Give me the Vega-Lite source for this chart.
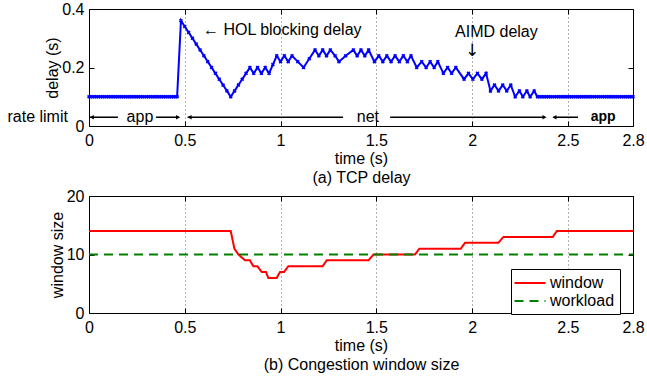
{
  "$schema": "https://vega.github.io/schema/vega-lite/v6.json",
  "background": "white",
  "padding": {"left": 6, "top": 0, "right": 3, "bottom": 2},
  "bounds": "flush",
  "spacing": 70,
  "config": {
    "font": "Liberation Sans",
    "view": {"stroke": "black", "strokeWidth": 1},
    "axis": {"labelFont": "Liberation Sans", "titleFont": "Liberation Sans", "labelFontSize": 16, "titleFontSize": 16, "titleFontWeight": "normal", "labelColor": "black", "titleColor": "black", "domain": false, "tickColor": "black", "tickSize": -5, "tickWidth": 1, "labelFlush": false, "labelOverlap": false, "grid": false},
    "axisX": {"labelPadding": 11, "titlePadding": 2, "titleLineHeight": 19},
    "axisY": {"labelPadding": 10, "titleBaseline": "middle"},
    "text": {"font": "Liberation Sans", "fontSize": 16, "color": "black"}
  },
  "datasets": {
    "delay": [
      {"t":0,"d":0.1},{"t":0.01,"d":0.1},{"t":0.02,"d":0.1},{"t":0.03,"d":0.1},{"t":0.04,"d":0.1},{"t":0.05,"d":0.1},{"t":0.06,"d":0.1},{"t":0.07,"d":0.1},{"t":0.08,"d":0.1},{"t":0.09,"d":0.1},
      {"t":0.1,"d":0.1},{"t":0.11,"d":0.1},{"t":0.12,"d":0.1},{"t":0.13,"d":0.1},{"t":0.14,"d":0.1},{"t":0.15,"d":0.1},{"t":0.16,"d":0.1},{"t":0.17,"d":0.1},{"t":0.18,"d":0.1},{"t":0.19,"d":0.1},
      {"t":0.2,"d":0.1},{"t":0.21,"d":0.1},{"t":0.22,"d":0.1},{"t":0.23,"d":0.1},{"t":0.24,"d":0.1},{"t":0.25,"d":0.1},{"t":0.26,"d":0.1},{"t":0.27,"d":0.1},{"t":0.28,"d":0.1},{"t":0.29,"d":0.1},
      {"t":0.3,"d":0.1},{"t":0.31,"d":0.1},{"t":0.32,"d":0.1},{"t":0.33,"d":0.1},{"t":0.34,"d":0.1},{"t":0.35,"d":0.1},{"t":0.36,"d":0.1},{"t":0.37,"d":0.1},{"t":0.38,"d":0.1},{"t":0.39,"d":0.1},
      {"t":0.4,"d":0.1},{"t":0.41,"d":0.1},{"t":0.42,"d":0.1},{"t":0.43,"d":0.1},{"t":0.44,"d":0.1},{"t":0.45,"d":0.1},{"t":0.46,"d":0.1},
      {"t":0.48,"d":0.36},{"t":0.5,"d":0.34},{"t":0.52,"d":0.32},{"t":0.54,"d":0.3},{"t":0.56,"d":0.28},{"t":0.58,"d":0.26},{"t":0.6,"d":0.24},{"t":0.62,"d":0.22},{"t":0.64,"d":0.2},{"t":0.66,"d":0.18},{"t":0.68,"d":0.16},{"t":0.7,"d":0.14},{"t":0.72,"d":0.12},{"t":0.74,"d":0.1},
      {"t":0.76,"d":0.12},{"t":0.78,"d":0.14},{"t":0.8,"d":0.16},{"t":0.82,"d":0.18},{"t":0.84,"d":0.2},
      {"t":0.86,"d":0.18},{"t":0.88,"d":0.2},{"t":0.9,"d":0.18},{"t":0.92,"d":0.2},{"t":0.94,"d":0.18},{"t":0.96,"d":0.21},{"t":0.98,"d":0.24},
      {"t":1.0,"d":0.22},{"t":1.02,"d":0.24},{"t":1.04,"d":0.22},{"t":1.06,"d":0.24},{"t":1.09,"d":0.22},{"t":1.12,"d":0.2},{"t":1.15,"d":0.23},{"t":1.18,"d":0.26},
      {"t":1.2,"d":0.24},{"t":1.22,"d":0.26},{"t":1.24,"d":0.24},{"t":1.26,"d":0.26},{"t":1.285,"d":0.24},{"t":1.305,"d":0.22},{"t":1.34,"d":0.24},{"t":1.38,"d":0.26},
      {"t":1.4,"d":0.24},{"t":1.42,"d":0.26},{"t":1.44,"d":0.24},{"t":1.46,"d":0.26},{"t":1.49,"d":0.22},
      {"t":1.513,"d":0.24},{"t":1.534,"d":0.22},{"t":1.555,"d":0.24},{"t":1.577,"d":0.22},{"t":1.598,"d":0.24},{"t":1.62,"d":0.22},{"t":1.641,"d":0.24},{"t":1.662,"d":0.22},{"t":1.681,"d":0.24},
      {"t":1.711,"d":0.2},{"t":1.737,"d":0.22},{"t":1.76,"d":0.2},{"t":1.781,"d":0.22},{"t":1.802,"d":0.2},{"t":1.821,"d":0.22},
      {"t":1.85,"d":0.18},{"t":1.872,"d":0.2},{"t":1.893,"d":0.18},{"t":1.915,"d":0.2},
      {"t":1.958,"d":0.16},{"t":1.981,"d":0.18},{"t":2.004,"d":0.16},{"t":2.028,"d":0.18},{"t":2.051,"d":0.16},{"t":2.073,"d":0.18},
      {"t":2.096,"d":0.12},{"t":2.117,"d":0.14},{"t":2.138,"d":0.12},{"t":2.16,"d":0.14},{"t":2.181,"d":0.12},{"t":2.202,"d":0.14},
      {"t":2.225,"d":0.1},{"t":2.247,"d":0.12},{"t":2.265,"d":0.1},{"t":2.286,"d":0.12},{"t":2.303,"d":0.1},{"t":2.324,"d":0.12},{"t":2.341,"d":0.1},
      {"t":2.35,"d":0.1},{"t":2.36,"d":0.1},{"t":2.37,"d":0.1},{"t":2.38,"d":0.1},{"t":2.39,"d":0.1},{"t":2.4,"d":0.1},{"t":2.41,"d":0.1},{"t":2.42,"d":0.1},{"t":2.43,"d":0.1},{"t":2.44,"d":0.1},
      {"t":2.45,"d":0.1},{"t":2.46,"d":0.1},{"t":2.47,"d":0.1},{"t":2.48,"d":0.1},{"t":2.49,"d":0.1},{"t":2.5,"d":0.1},{"t":2.51,"d":0.1},{"t":2.52,"d":0.1},{"t":2.53,"d":0.1},{"t":2.54,"d":0.1},
      {"t":2.55,"d":0.1},{"t":2.56,"d":0.1},{"t":2.57,"d":0.1},{"t":2.58,"d":0.1},{"t":2.59,"d":0.1},{"t":2.6,"d":0.1},{"t":2.61,"d":0.1},{"t":2.62,"d":0.1},{"t":2.63,"d":0.1},{"t":2.64,"d":0.1},
      {"t":2.65,"d":0.1},{"t":2.66,"d":0.1},{"t":2.67,"d":0.1},{"t":2.68,"d":0.1},{"t":2.69,"d":0.1},{"t":2.7,"d":0.1},{"t":2.71,"d":0.1},{"t":2.72,"d":0.1},{"t":2.73,"d":0.1},{"t":2.74,"d":0.1},
      {"t":2.75,"d":0.1},{"t":2.76,"d":0.1},{"t":2.77,"d":0.1},{"t":2.78,"d":0.1},{"t":2.79,"d":0.1},{"t":2.8,"d":0.1},{"t":2.81,"d":0.1},{"t":2.82,"d":0.1},{"t":2.83,"d":0.1},{"t":2.84,"d":0.1}
    ],
    "segs": [{"t":0,"t2":0.151,"d":0.03},{"t":0.35,"t2":0.47,"d":0.03},{"t":0.515,"t2":1.326,"d":0.03},{"t":1.572,"t2":2.38,"d":0.03},{"t":2.425,"t2":2.553,"d":0.03}],
    "arrowL": [{"t":0.015,"d":0.03},{"t":0.525,"d":0.03},{"t":2.43,"d":0.03}],
    "arrowR": [{"t":0.465,"d":0.03},{"t":2.378,"d":0.03}],
    "phase": [{"t":0.266,"d":0.03,"label":"app"},{"t":1.456,"d":0.03,"label":"net"}],
    "phaseEnd": [{"t":2.684,"d":0.03,"label":"app"}],
    "side": [{"t":-0.11,"d":0.03,"label":"rate limit"}],
    "notes": [{"t":0.595,"d":0.328,"label":"← HOL blocking delay"},{"t":1.911,"d":0.32,"label":"AIMD delay"}],
    "pointer": [{"t":2.0,"d":0.258,"label":"↓"}],
    "window": [
      {"t":0,"v":14,"series":"window"},{"t":0.74,"v":14,"series":"window"},{"t":0.759,"v":11,"series":"window"},{"t":0.78,"v":10,"series":"window"},
      {"t":0.815,"v":9,"series":"window"},{"t":0.84,"v":9,"series":"window"},{"t":0.858,"v":8,"series":"window"},{"t":0.879,"v":8,"series":"window"},
      {"t":0.902,"v":7,"series":"window"},{"t":0.924,"v":7,"series":"window"},{"t":0.936,"v":6,"series":"window"},{"t":0.98,"v":6,"series":"window"},
      {"t":0.997,"v":7,"series":"window"},{"t":1.018,"v":7,"series":"window"},{"t":1.041,"v":8,"series":"window"},{"t":1.22,"v":8,"series":"window"},
      {"t":1.241,"v":9,"series":"window"},{"t":1.459,"v":9,"series":"window"},{"t":1.485,"v":10,"series":"window"},{"t":1.702,"v":10,"series":"window"},
      {"t":1.725,"v":11,"series":"window"},{"t":1.941,"v":11,"series":"window"},{"t":1.963,"v":12,"series":"window"},{"t":2.137,"v":12,"series":"window"},
      {"t":2.164,"v":13,"series":"window"},{"t":2.421,"v":13,"series":"window"},{"t":2.442,"v":14,"series":"window"},{"t":2.84,"v":14,"series":"window"}
    ],
    "workload": [{"t":0,"v":10,"series":"workload"},{"t":2.84,"v":10,"series":"workload"}]
  },
  "vconcat": [
    {
      "width": 544,
      "height": 117,
      "resolve": {"axis": {"x": "independent", "y": "independent"}},
      "layer": [
        {
          "encoding": {
            "x": {"field": "t", "type": "quantitative", "scale": {"domain": [0, 2.84], "nice": false, "zero": false},
                  "axis": {"orient": "bottom", "values": [0, 0.5, 1, 1.5, 2, 2.5, 2.84], "format": "~g", "labelExpr": "datum.value > 2.8 ? '2.8' : datum.label", "title": ["time (s)", "(a) TCP delay"], "grid": true, "gridDash": [1, 3], "gridColor": "black", "gridOpacity": 0.6}},
            "y": {"field": "d", "type": "quantitative", "scale": {"domain": [0, 0.4], "nice": false},
                  "axis": {"orient": "left", "values": [0, 0.2, 0.4], "format": "~g", "title": "delay (s)", "titleX": -37}}
          },
          "layer": [
            {"data": {"name": "segs"}, "mark": {"type": "rule", "color": "black", "strokeWidth": 1.5}, "encoding": {"x2": {"field": "t2"}}},
            {"data": {"name": "arrowL"}, "mark": {"type": "point", "shape": "triangle-left", "size": 22, "filled": true, "color": "black", "opacity": 1}},
            {"data": {"name": "arrowR"}, "mark": {"type": "point", "shape": "triangle-right", "size": 22, "filled": true, "color": "black", "opacity": 1}},
            {"data": {"name": "phase"}, "mark": {"type": "text", "align": "center", "baseline": "middle"}, "encoding": {"text": {"field": "label"}}},
            {"data": {"name": "phaseEnd"}, "mark": {"type": "text", "align": "center", "baseline": "middle", "fontWeight": "bold", "fontSize": 14}, "encoding": {"text": {"field": "label"}}},
            {"data": {"name": "side"}, "mark": {"type": "text", "align": "right", "baseline": "middle"}, "encoding": {"text": {"field": "label"}}},
            {"data": {"name": "notes"}, "mark": {"type": "text", "align": "left", "baseline": "middle"}, "encoding": {"text": {"field": "label"}}},
            {"data": {"name": "pointer"}, "mark": {"type": "text", "align": "center", "baseline": "middle", "fontSize": 17, "font": "DejaVu Sans"}, "encoding": {"text": {"field": "label"}}},
            {"data": {"name": "delay"}, "mark": {"type": "line", "color": "#0000ff", "strokeWidth": 2}},
            {"data": {"name": "delay"}, "mark": {"type": "point", "shape": "cross", "angle": 45, "size": 16, "filled": true, "color": "#0000ff", "opacity": 1}}
          ]
        },
        {
          "data": {"name": "delay"},
          "mark": {"type": "point", "opacity": 0},
          "encoding": {
            "x": {"field": "t", "type": "quantitative", "scale": {"domain": [0, 2.84], "nice": false, "zero": false},
                  "axis": {"orient": "top", "values": [0.5, 1, 1.5, 2, 2.5], "labels": false, "title": null, "grid": false}},
            "y": {"field": "d", "type": "quantitative", "scale": {"domain": [0, 0.4], "nice": false},
                  "axis": {"orient": "right", "values": [0, 0.2, 0.4], "labels": false, "title": null, "grid": false}}
          }
        }
      ]
    },
    {
      "width": 544,
      "height": 117,
      "resolve": {"axis": {"x": "independent", "y": "independent"}},
      "layer": [
        {
          "encoding": {
            "x": {"field": "t", "type": "quantitative", "scale": {"domain": [0, 2.84], "nice": false, "zero": false},
                  "axis": {"orient": "bottom", "values": [0, 0.5, 1, 1.5, 2, 2.5, 2.84], "format": "~g", "labelExpr": "datum.value > 2.8 ? '2.8' : datum.label", "title": ["time (s)", "(b) Congestion window size"], "grid": true, "gridDash": [1, 3], "gridColor": "black", "gridOpacity": 0.6}},
            "y": {"field": "v", "type": "quantitative", "scale": {"domain": [0, 20], "nice": false},
                  "axis": {"orient": "left", "values": [0, 10, 20], "title": "window size", "titleX": -32}},
            "color": {"field": "series", "type": "nominal", "scale": {"domain": ["window", "workload"], "range": ["#ff0000", "#008000"]},
                      "legend": {"title": null, "orient": "none", "legendX": 422, "legendY": 260, "symbolType": "M-2,0H2", "symbolSize": 240, "symbolStrokeWidth": 2, "labelFontSize": 16, "labelFont": "Liberation Sans", "labelColor": "black", "padding": 5, "strokeColor": "black", "fillColor": "white", "symbolOffset": 5, "labelOffset": 11, "rowPadding": 1}},
            "strokeDash": {"field": "series", "type": "nominal", "scale": {"domain": ["window", "workload"], "range": [[1, 0], [9, 6]]},
                      "legend": {"title": null, "orient": "none", "legendX": 422, "legendY": 260, "symbolType": "M-2,0H2", "symbolSize": 240, "symbolStrokeWidth": 2, "labelFontSize": 16, "labelFont": "Liberation Sans", "labelColor": "black", "padding": 5, "strokeColor": "black", "fillColor": "white", "symbolOffset": 5, "labelOffset": 11, "rowPadding": 1}}
          },
          "layer": [
            {"data": {"name": "window"}, "mark": {"type": "line", "strokeWidth": 2}},
            {"data": {"name": "workload"}, "mark": {"type": "line", "strokeWidth": 2}}
          ]
        },
        {
          "data": {"name": "workload"},
          "mark": {"type": "point", "opacity": 0},
          "encoding": {
            "x": {"field": "t", "type": "quantitative", "scale": {"domain": [0, 2.84], "nice": false, "zero": false},
                  "axis": {"orient": "top", "values": [0.5, 1, 1.5, 2, 2.5], "labels": false, "title": null, "grid": false}},
            "y": {"field": "v", "type": "quantitative", "scale": {"domain": [0, 20], "nice": false},
                  "axis": {"orient": "right", "values": [0, 10, 20], "labels": false, "title": null, "grid": false}}
          }
        }
      ]
    }
  ]
}
